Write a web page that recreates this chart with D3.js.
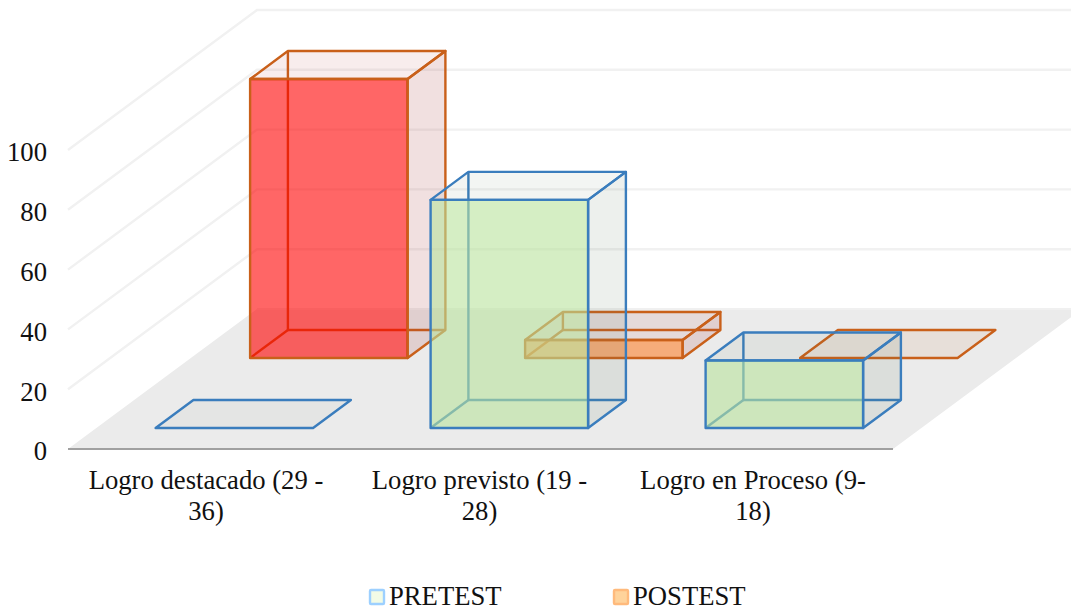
<!DOCTYPE html>
<html><head><meta charset="utf-8">
<script src="https://cdn.jsdelivr.net/npm/d3@7"></script>
<style>html,body{margin:0;padding:0;background:#fff}svg{display:block}text{font-family:"Liberation Serif",serif;fill:#111}</style>
</head><body><svg id="c" width="1071" height="609"></svg>
<script>
const categories = [["Logro destacado (29 -","36)"],["Logro previsto (19 -","28)"],["Logro en Proceso (9-","18)"]];
const seriesNames = ["PRETEST","POSTEST"];
const pretest = [0,76.3,22.6];
const postest = [93.3,6,0];
const yTicks = [0,20,40,60,80,100];

const depthX=189, depthY=140, frontL=68, frontR=893;
const svg=d3.select("#c");
const y=d3.scaleLinear().domain([0,100]).range([449,150]);
const x=d3.scaleBand().domain([0,1,2]).range([frontL+.5,frontR+.5]).paddingInner(.4273).paddingOuter(.21365);
const z=d3.scaleBand().domain(seriesNames).range([0,1]).paddingInner(.6).paddingOuter(.3);
const P=(px,d,v)=>[px+d*depthX, y(v)-d*depthY];
const line=d3.line();
const poly=pts=>line(pts)+"Z";

// walls
const gridG=svg.append("g").attr("fill","none").attr("stroke","#f1f1f1").attr("stroke-width",2.4);
yTicks.slice(1).forEach(v=>{
  gridG.append("path").attr("d",line([P(frontL,0,v),P(frontL,1,v),P(frontR+200,1,v)]));
});
// floor
svg.append("path").attr("d",poly([P(frontL,0,0),P(frontL,1,0),P(frontR,1,0),P(frontR,0,0)])).attr("fill","#ebebeb");
svg.append("path").attr("d",line([P(frontL,1,0),P(frontR,1,0)])).attr("stroke","#f0f0f0").attr("stroke-width",2).attr("fill","none");
svg.append("path").attr("d",line([P(frontL,0,0),P(frontR,0,0)])).attr("stroke","#a0a0a0").attr("stroke-width",2.2).attr("fill","none");

const styles={
 PRETEST:{stroke:"#3a7dbd",top:"rgba(90,120,90,.07)",side:"rgba(90,120,90,.11)",flat:"rgba(90,120,90,.05)"},
 POSTEST:{stroke:"#c9601a",top:"rgba(180,60,60,.09)",side:"rgba(170,60,60,.16)",flat:"rgba(200,120,60,.1)"}
};
const frontFill=(s,i)=> s==="PRETEST"?"rgba(185,227,157,.6)":(i===0?"rgba(255,0,0,.6)":"rgba(255,120,30,.55)");
const boxDepth=z.bandwidth();

function box(g,s,i,v){
  const st=styles[s], x0=x(i), x1=x0+x.bandwidth(), d0=z(s), d1=d0+boxDepth;
  const a=P;
  const add=(pts,fill,close=true)=>g.append("path").attr("d",close?poly(pts):line(pts)).attr("fill",fill||"none").attr("stroke",st.stroke).attr("stroke-width",2.4).attr("stroke-linejoin","round");
  if(v>0){
    add([a(x0,d1,v),a(x0,d1,0),a(x1,d1,0)],null,false);
    add([a(x0,d0,0),a(x0,d1,0)],null,false);
    add([a(x1,d0,0),a(x1,d1,0),a(x1,d1,v),a(x1,d0,v)],st.side);
    add([a(x0,d0,v),a(x0,d1,v),a(x1,d1,v),a(x1,d0,v)],st.top);
    add([a(x0,d0,0),a(x0,d0,v),a(x1,d0,v),a(x1,d0,0)],frontFill(s,i));
  } else {
    add([a(x0,d0,0),a(x0,d1,0),a(x1,d1,0),a(x1,d0,0)],st.flat);
  }
}
const valuesBy={PRETEST:pretest,POSTEST:postest};
const bars=svg.append("g");
["POSTEST","PRETEST"].forEach(s=>{
  valuesBy[s].forEach((v,i)=>box(bars,s,i,v));
});

// y axis labels
const ax=svg.append("g").attr("transform","translate(56,2)")
  .call(d3.axisLeft(y).tickValues(yTicks).tickSize(0).tickPadding(9));
ax.select(".domain").remove();
ax.selectAll("text").attr("font-size",26.67).attr("font-family",'"Liberation Serif",serif').attr("fill","#111").attr("dy","0.33em");

// category labels
categories.forEach((lines,i)=>{
  const cx=x(i)+x.bandwidth()/2-1.5*i;
  lines.forEach((t,j)=>{
    svg.append("text").attr("x",cx).attr("y",489+31*j).attr("text-anchor","middle").attr("font-size",26.67).text(t);
  });
});

// legend
const legend=[{n:"PRETEST",x:370,f:"#f2fbe6",s:"#9dd0ff"},{n:"POSTEST",x:614,f:"#ffd39b",s:"#ffba7c"}];
legend.forEach(l=>{
  svg.append("rect").attr("x",l.x).attr("y",590).attr("width",14).attr("height",14).attr("rx",1).attr("fill",l.f).attr("stroke",l.s).attr("stroke-width",2.4);
  svg.append("text").attr("x",l.x+19).attr("y",604.5).attr("font-size",26.67).text(l.n);
});
</script></body></html>
